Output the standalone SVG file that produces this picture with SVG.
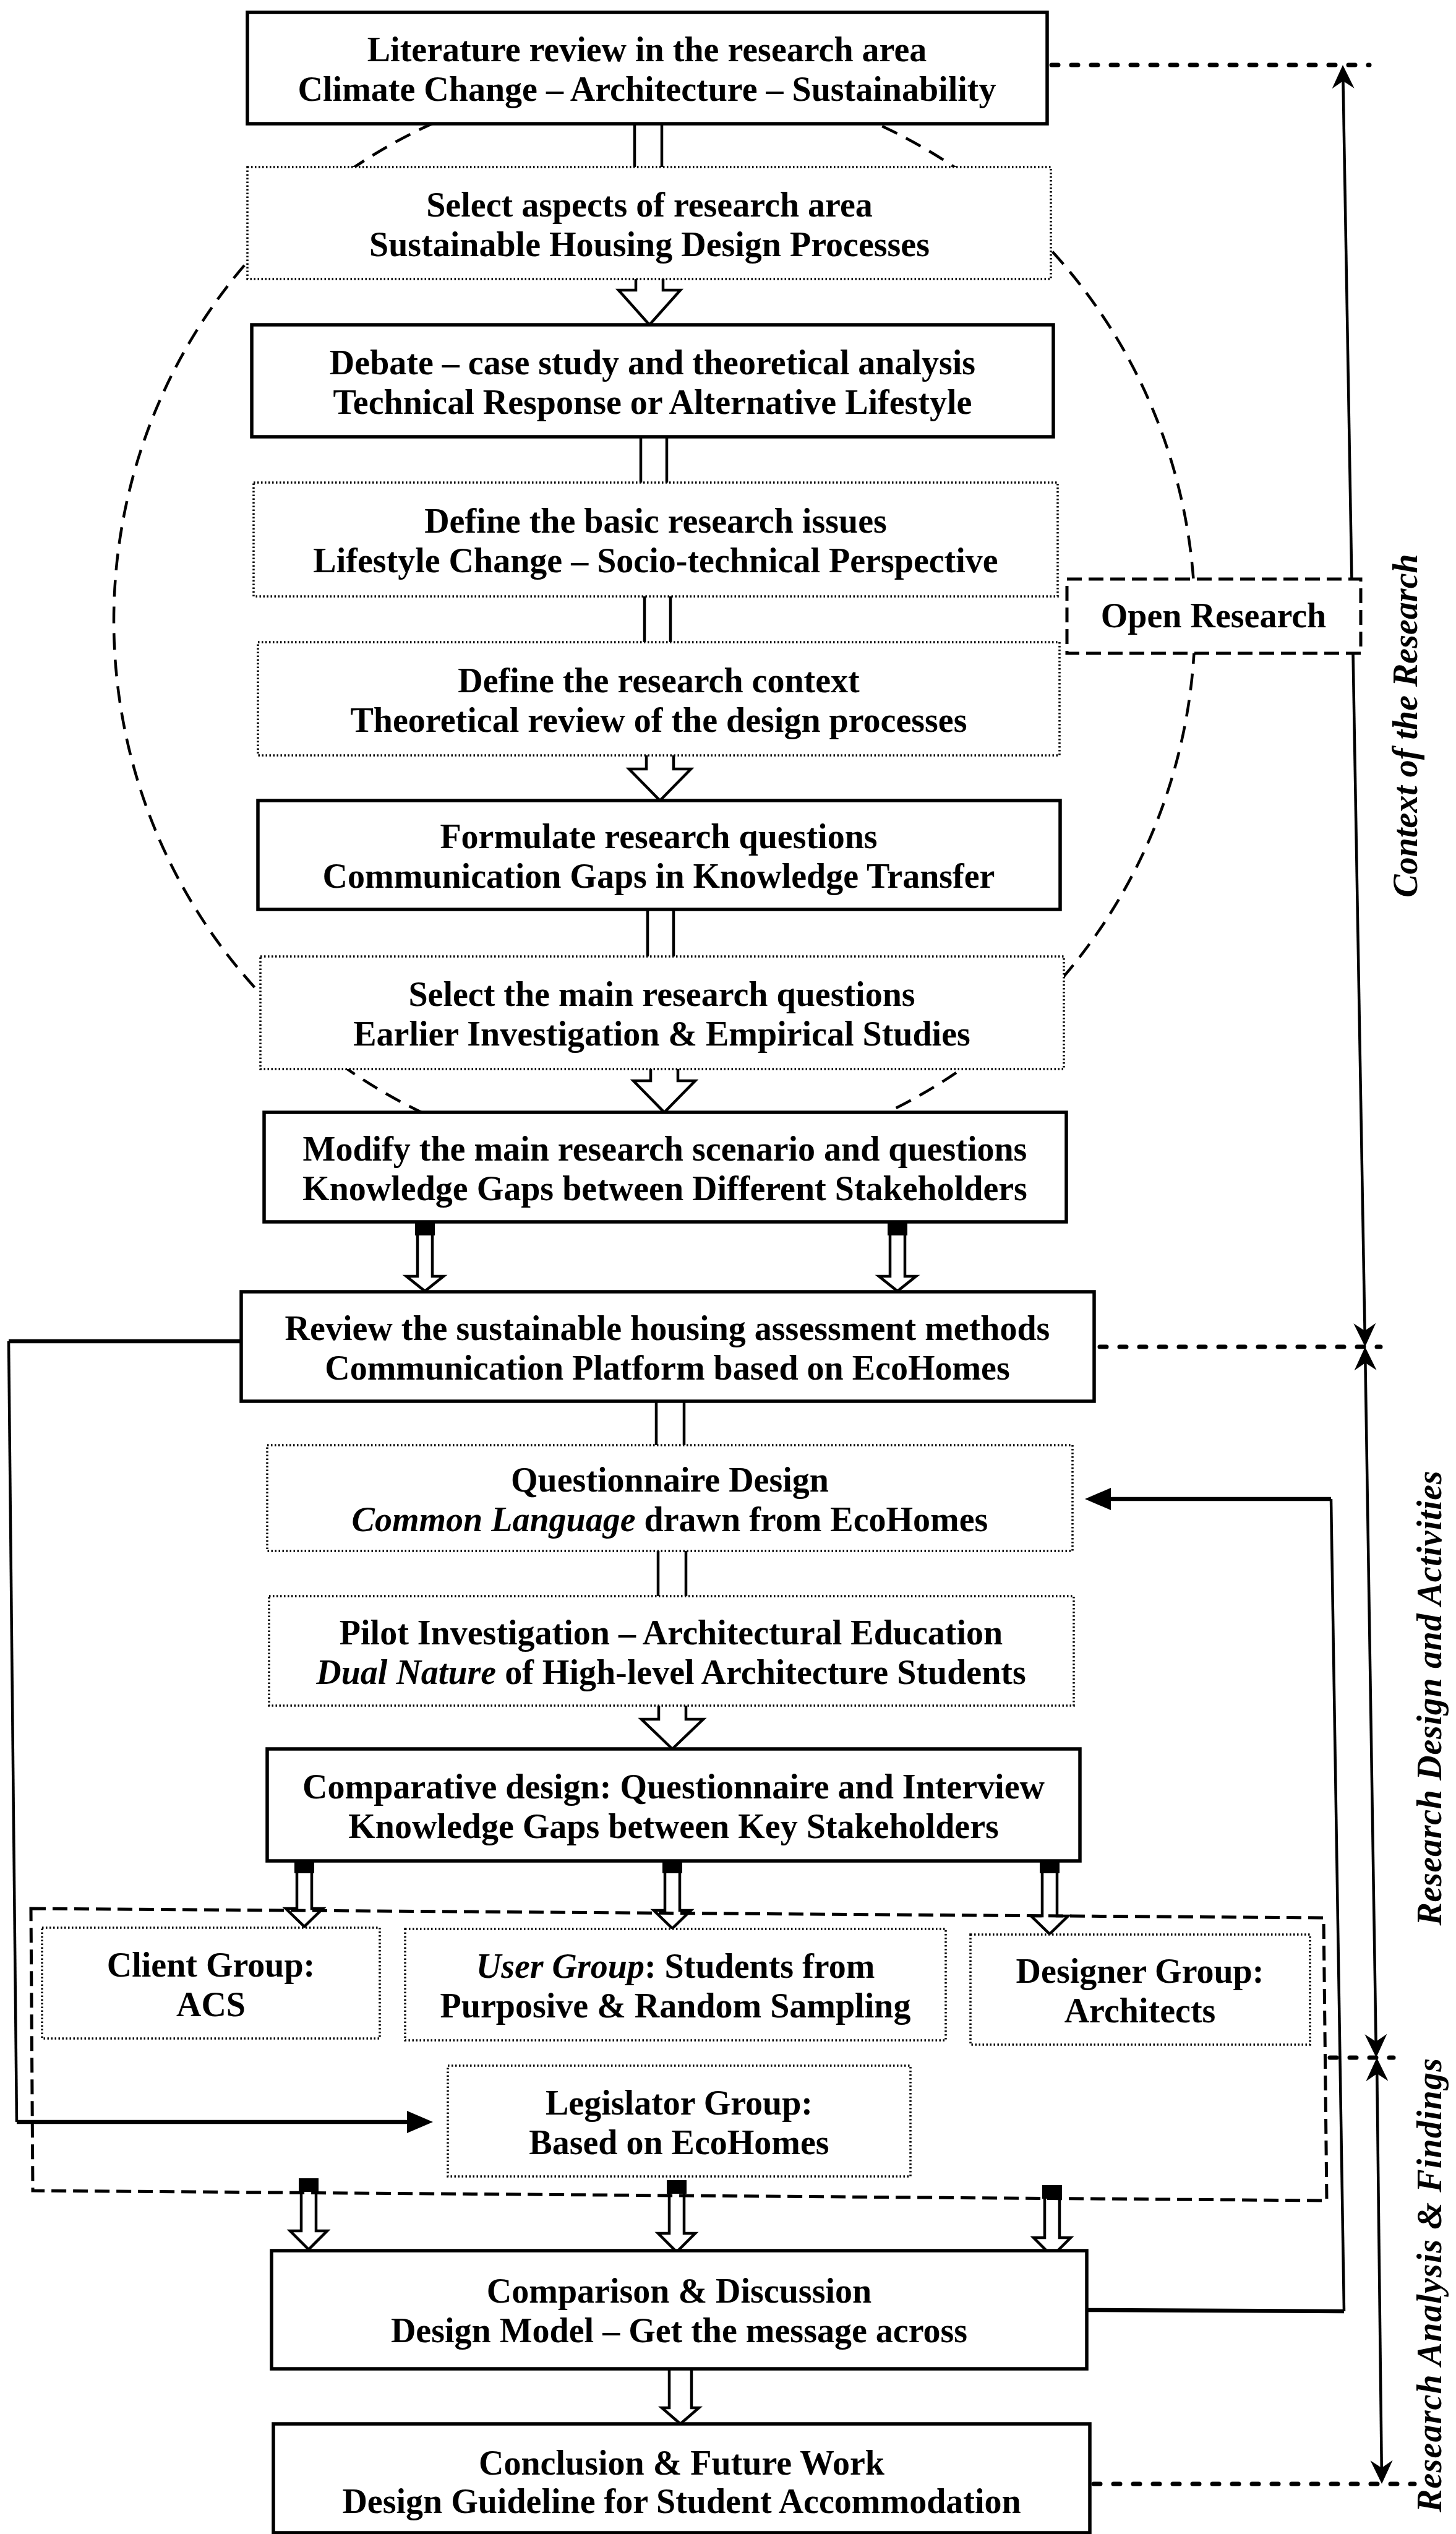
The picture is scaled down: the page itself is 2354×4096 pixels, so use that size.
<svg xmlns="http://www.w3.org/2000/svg" width="2354" height="4096" viewBox="0 0 2354 4096">
<style>
.solid{fill:#fff;stroke:#000;stroke-width:5.5}
.dot{fill:#fff;stroke:#000;stroke-width:3.5;stroke-dasharray:2.5 3.5}
.t{font-family:"Liberation Serif","Times New Roman",serif;font-weight:bold;font-size:56px;text-anchor:middle;fill:#000}
.it{font-style:italic}
.dl{fill:none;stroke:#000;stroke-width:7;stroke-dasharray:11 21;stroke-linecap:round}
.dash{fill:none;stroke:#000;stroke-width:5;stroke-dasharray:24 11}
.circ{fill:none;stroke:#000;stroke-width:4.5;stroke-dasharray:27 16}
.ln{fill:none;stroke:#000;stroke-width:4.5}
.thk{fill:none;stroke:#000;stroke-width:6.5}
.hol{fill:#fff;stroke:#000;stroke-width:4.5;stroke-linejoin:miter}
.blk{fill:#000}
</style>
<defs>
<marker id="barb" markerUnits="userSpaceOnUse" markerWidth="60" markerHeight="60" refX="0" refY="0" orient="auto-start-reverse" style="overflow:visible">
<path d="M12,0 L-26,-18 L-14,0 L-26,18 Z" fill="#000"/>
</marker>
<marker id="tri" markerUnits="userSpaceOnUse" markerWidth="60" markerHeight="60" refX="0" refY="0" orient="auto" style="overflow:visible">
<path d="M10,0 L-32,-18 L-32,18 Z" fill="#000"/>
</marker>
</defs>
<rect width="2354" height="4096" fill="#fff"/>

<ellipse class="circ" cx="1058" cy="1003" rx="874" ry="881"/>

<g id="connectors">
<!-- double lines -->
<path class="ln" d="M1026,200V270M1070,200V270"/>
<path class="ln" d="M1036,706V780M1078,706V780"/>
<path class="ln" d="M1042,964V1038M1084,964V1038"/>
<path class="ln" d="M1047,1470V1546M1089,1470V1546"/>
<path class="ln" d="M1061,2265V2336M1106,2265V2336"/>
<path class="ln" d="M1064,2507V2580M1109,2507V2580"/>
<!-- big hollow arrows -->
<path class="hol" d="M1028,451V469H1000L1050,525L1100,469H1072V451"/>
<path class="hol" d="M1045,1221V1243H1017L1067,1294L1117,1243H1089V1221"/>
<path class="hol" d="M1052,1728V1747H1024L1074,1798L1124,1747H1096V1728"/>
<path class="hol" d="M1065,2757V2779H1037L1087,2827L1137,2779H1109V2757"/>
<path class="hol" d="M1082,3829V3892H1070L1100,3918L1130,3892H1118V3829"/>
<!-- slim arrows B8 to B9 -->
<rect class="blk" x="671" y="1975" width="32" height="22"/>
<path class="hol" d="M675,1997V2063H657L687,2087L717,2063H699V1997"/>
<rect class="blk" x="1435" y="1975" width="32" height="22"/>
<path class="hol" d="M1439,1997V2063H1421L1451,2087L1481,2063H1463V1997"/>
<!-- slim arrows B12 to groups -->
<rect class="blk" x="476" y="3008" width="32" height="20"/>
<path class="hol" d="M480,3028V3085H462L492,3114L522,3085H504V3028"/>
<rect class="blk" x="1071" y="3008" width="32" height="20"/>
<path class="hol" d="M1075,3028V3088H1057L1087,3117L1117,3088H1099V3028"/>
<rect class="blk" x="1681" y="3008" width="32" height="20"/>
<path class="hol" d="M1685,3028V3097H1667L1697,3126L1727,3097H1709V3028"/>
<!-- slim arrows to Comparison -->
<rect class="blk" x="483" y="3521" width="32" height="22"/>
<path class="hol" d="M487,3543V3606H469L499,3636L529,3606H511V3543"/>
<rect class="blk" x="1078" y="3524" width="32" height="22"/>
<path class="hol" d="M1082,3546V3610H1064L1094,3640L1124,3610H1106V3546"/>
<rect class="blk" x="1685" y="3532" width="32" height="22"/>
<path class="hol" d="M1689,3554V3617H1671L1701,3647L1731,3617H1713V3554"/>
<!-- feedback lines -->
<path class="thk" d="M390,2168H14"/>
<path class="ln" d="M14,2168L27,3430"/>
<path class="thk" d="M27,3430H690" marker-end="url(#tri)"/>
<path class="thk" d="M1757,3734L2173,3736"/>
<path class="ln" d="M2173,3736L2152,2423"/>
<path class="thk" d="M2152,2423H1764" marker-end="url(#tri)"/>
<!-- phase range arrows -->
<path class="ln" d="M2171.2,117L2206.8,2165" marker-start="url(#barb)" marker-end="url(#barb)"/>
<path class="ln" d="M2207.2,2189L2224.8,3314" marker-start="url(#barb)" marker-end="url(#barb)"/>
<path class="ln" d="M2226.1,3338L2233.9,4003" marker-start="url(#barb)" marker-end="url(#barb)"/>
<!-- dotted phase boundaries -->
<path class="dl" d="M1700,105H2214"/>
<path class="dl" d="M1778,2177H2232"/>
<path class="dl" d="M2150,3326H2253"/>
<path class="dl" d="M1768,4015H2287"/>
</g>

<g id="group-frame">
<path class="dash" d="M50,3085L2140,3100L2145,3557L53,3541Z"/>
</g>

<g id="n1"><rect class="solid" x="400" y="20" width="1293" height="180"/>
<text class="t" x="1046" y="99">Literature review in the research area</text>
<text class="t" x="1046" y="163">Climate Change – Architecture – Sustainability</text></g>

<g id="n2"><rect class="dot" x="400" y="270" width="1299" height="181"/>
<text class="t" x="1050" y="350">Select aspects of research area</text>
<text class="t" x="1050" y="414">Sustainable Housing Design Processes</text></g>

<g id="n3"><rect class="solid" x="407" y="525" width="1296" height="181"/>
<text class="t" x="1055" y="605">Debate – case study and theoretical analysis</text>
<text class="t" x="1055" y="669">Technical Response or Alternative Lifestyle</text></g>

<g id="n4"><rect class="dot" x="410" y="780" width="1300" height="184"/>
<text class="t" x="1060" y="861">Define the basic research issues</text>
<text class="t" x="1060" y="925">Lifestyle Change – Socio-technical Perspective</text></g>

<g id="n5"><rect class="dot" x="417" y="1038" width="1296" height="183"/>
<text class="t" x="1065" y="1119">Define the research context</text>
<text class="t" x="1065" y="1183">Theoretical review of the design processes</text></g>

<g id="n6"><rect class="solid" x="417" y="1294" width="1297" height="176"/>
<text class="t" x="1065" y="1371">Formulate research questions</text>
<text class="t" x="1065" y="1435">Communication Gaps in Knowledge Transfer</text></g>

<g id="n7"><rect class="dot" x="421" y="1546" width="1299" height="182"/>
<text class="t" x="1070" y="1626">Select the main research questions</text>
<text class="t" x="1070" y="1690">Earlier Investigation &amp; Empirical Studies</text></g>

<g id="n8"><rect class="solid" x="427" y="1798" width="1297" height="177"/>
<text class="t" x="1075" y="1876">Modify the main research scenario and questions</text>
<text class="t" x="1075" y="1940">Knowledge Gaps between Different Stakeholders</text></g>

<g id="n9"><rect class="solid" x="390" y="2088" width="1379" height="177"/>
<text class="t" x="1079" y="2166">Review the sustainable housing assessment methods</text>
<text class="t" x="1079" y="2230">Communication Platform based on EcoHomes</text></g>

<g id="n10"><rect class="dot" x="432" y="2336" width="1302" height="171"/>
<text class="t" x="1083" y="2411">Questionnaire Design</text>
<text class="t" x="1083" y="2475"><tspan class="it">Common Language</tspan> drawn from EcoHomes</text></g>

<g id="n11"><rect class="dot" x="435" y="2580" width="1301" height="177"/>
<text class="t" x="1085" y="2658">Pilot Investigation – Architectural Education</text>
<text class="t" x="1085" y="2722"><tspan class="it">Dual Nature</tspan> of High-level Architecture Students</text></g>

<g id="n12"><rect class="solid" x="432" y="2827" width="1314" height="181"/>
<text class="t" x="1089" y="2907">Comparative design: Questionnaire and Interview</text>
<text class="t" x="1089" y="2971">Knowledge Gaps between Key Stakeholders</text></g>

<g id="client"><rect class="dot" x="68" y="3116" width="546" height="179"/>
<text class="t" x="341" y="3195">Client Group:</text>
<text class="t" x="341" y="3259">ACS</text></g>

<g id="user"><rect class="dot" x="655" y="3118" width="874" height="180"/>
<text class="t" x="1092" y="3197"><tspan class="it">User Group</tspan>: Students from</text>
<text class="t" x="1092" y="3261">Purposive &amp; Random Sampling</text></g>

<g id="designer"><rect class="dot" x="1569" y="3127" width="549" height="178"/>
<text class="t" x="1843" y="3205">Designer Group:</text>
<text class="t" x="1843" y="3269">Architects</text></g>

<g id="legislator"><rect class="dot" x="724" y="3339" width="748" height="179"/>
<text class="t" x="1098" y="3418">Legislator Group:</text>
<text class="t" x="1098" y="3482">Based on EcoHomes</text></g>

<g id="comparison"><rect class="solid" x="439" y="3638" width="1318" height="191"/>
<text class="t" x="1098" y="3722">Comparison &amp; Discussion</text>
<text class="t" x="1098" y="3786">Design Model – Get the message across</text></g>

<g id="conclusion"><rect class="solid" x="442" y="3918" width="1320" height="176"/>
<text class="t" x="1102" y="4000">Conclusion &amp; Future Work</text>
<text class="t" x="1102" y="4062">Design Guideline for Student Accommodation</text></g>

<g id="open-research"><rect class="dash" style="fill:#fff" x="1725" y="936" width="475" height="120"/>
<text class="t" x="1962" y="1014">Open Research</text></g>

<g id="phase-labels">
<text class="t it" transform="translate(2291,1173) rotate(-90)">Context of the Research</text>
<text class="t it" transform="translate(2330,2745) rotate(-90)" textLength="735" lengthAdjust="spacing">Research Design and Activities</text>
<text class="t it" transform="translate(2330,3694) rotate(-90)" textLength="734" lengthAdjust="spacing">Research Analysis &amp; Findings</text>
</g>
</svg>
